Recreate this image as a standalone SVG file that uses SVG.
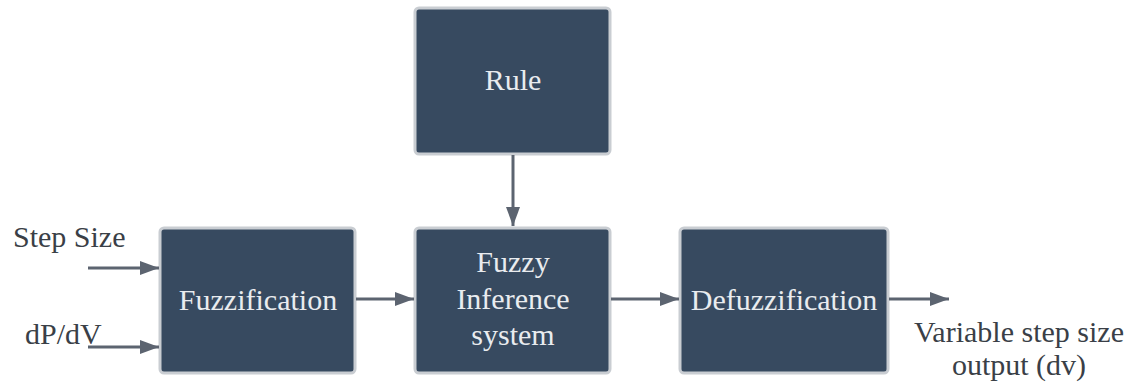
<svg xmlns="http://www.w3.org/2000/svg" width="1131" height="386" viewBox="0 0 1131 386">
<style>
.box{fill:#374a60;stroke:#c9cdd2;stroke-width:3}
.bt{font-family:"Liberation Serif",serif;font-size:30px;fill:#e9ecef;text-anchor:middle}
.lt{font-family:"Liberation Serif",serif;font-size:30px;fill:#3a3f47}
.c{stroke:#5c6470;stroke-width:3;fill:none;marker-end:url(#ah)}
</style>
<defs>
<marker id="ah" markerUnits="userSpaceOnUse" markerWidth="20" markerHeight="14" refX="19" refY="7" orient="auto">
<path d="M0,0 L19,7 L0,14 Z" fill="#5c6470"/>
</marker>
</defs>
<rect width="1131" height="386" fill="#ffffff"/>
<g id="rule"><rect class="box" x="415" y="8" width="195" height="146" rx="4"/><text class="bt" x="513" y="90">Rule</text></g>
<g id="fuzzification"><rect class="box" x="160" y="228" width="195" height="145" rx="4"/><text class="bt" x="258" y="310">Fuzzification</text></g>
<g id="fis"><rect class="box" x="415" y="228" width="195" height="145" rx="4"/><text class="bt" x="513" y="272">Fuzzy</text><text class="bt" x="513" y="309">Inference</text><text class="bt" x="513" y="345">system</text></g>
<g id="defuzzification"><rect class="box" x="680" y="228" width="208" height="145" rx="4"/><text class="bt" x="784" y="310">Defuzzification</text></g>
<g id="labels">
<text class="lt" x="13" y="247">Step Size</text>
<text class="lt" x="25" y="344">dP/dV</text>
<text class="lt" x="1019" y="342" text-anchor="middle">Variable step size</text>
<text class="lt" x="1019" y="375" text-anchor="middle">output (dv)</text>
</g>
<g id="connectors">
<line class="c" x1="513" y1="155" x2="513" y2="226"/>
<line class="c" x1="88" y1="268" x2="159" y2="268"/>
<line class="c" x1="88" y1="347" x2="159" y2="347"/>
<line class="c" x1="356" y1="299" x2="414" y2="299"/>
<line class="c" x1="611" y1="299" x2="679" y2="299"/>
<line class="c" x1="889" y1="299" x2="949" y2="299"/>
</g>
</svg>
